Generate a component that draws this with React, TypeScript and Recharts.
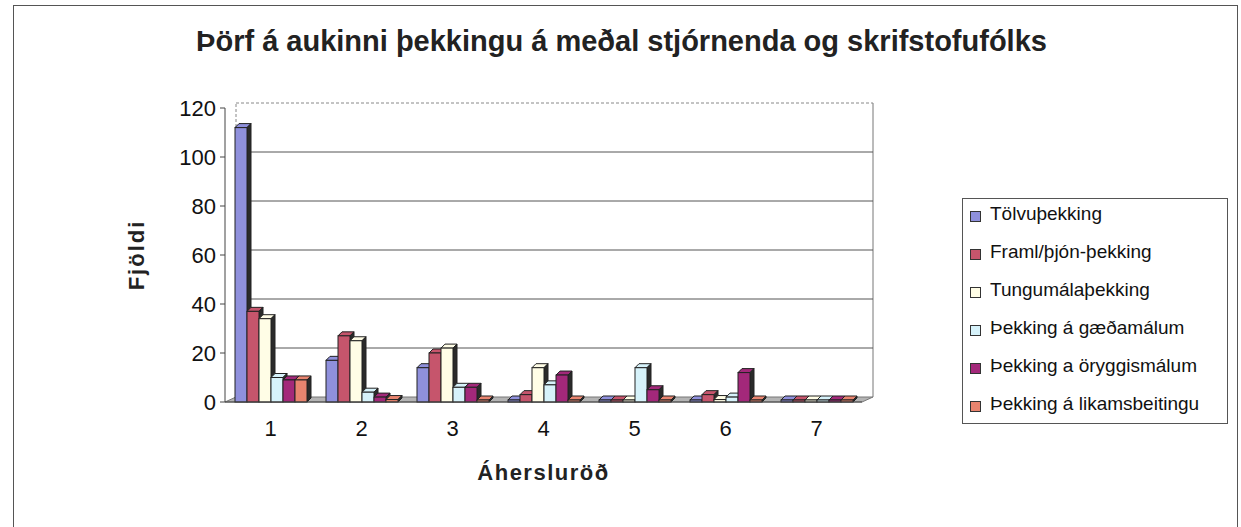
import React from 'react';
import { BarChart, Bar, XAxis, YAxis, CartesianGrid } from 'recharts';

const categories = ['1', '2', '3', '4', '5', '6', '7'];
const seriesNames = [
  'Tölvuþekking',
  'Framl/þjón-þekking',
  'Tungumálaþekking',
  'Þekking á gæðamálum',
  'Þekking a öryggismálum',
  'Þekking á likamsbeitingu',
];
const tolvu = [112, 17, 14, 0, 0, 0, 0];
const framl = [37, 27, 20, 3, 0, 3, 0];
const tungumal = [34, 25, 22, 14, 0, 1, 0];
const gaedamal = [10, 4, 6, 7, 14, 2, 0];
const oryggis = [9, 2, 6, 11, 5, 12, 0];
const likams = [9, 1, 0, 0, 0, 0, 0];
const yTicks = [0, 20, 40, 60, 80, 100, 120];

const seriesValues = [tolvu, framl, tungumal, gaedamal, oryggis, likams];
const colors = ['#8f90dc', '#c6556c', '#fffde6', '#d6f2fa', '#a3287a', '#e8846f'];
const keys = ['s0', 's1', 's2', 's3', 's4', 's5'];

const data = categories.map((c, i) => {
  const row: any = { cat: c, pos: i + 0.5 };
  keys.forEach((k, j) => (row[k] = seriesValues[j][i]));
  return row;
});

const FONT = 'Arial, "Liberation Sans", sans-serif';
const D = 4;
// depth of the back wall
const WX = 11;
const WY = 5;

const Bar3D = (props: any) => {
  const { x, y, width, height, fill } = props;
  if (width == null || height == null) return null;
  const w = width;
  const h = Math.max(height, 0);
  return (
    <g>
      <polygon
        points={`${x},${y} ${x + D},${y - D} ${x + w + D},${y - D} ${x + w},${y}`}
        fill={fill}
        stroke="#222"
        strokeWidth={1}
      />
      <polygon
        points={`${x + w},${y} ${x + w + D},${y - D} ${x + w + D},${y + h - D} ${x + w},${y + h}`}
        fill="#2a2a2a"
        stroke="#222"
        strokeWidth={1}
      />
      <rect x={x} y={y} width={w} height={h} fill={fill} stroke="#222" strokeWidth={1} />
    </g>
  );
};

const GridLine = (props: any) => {
  const { x1, y1, x2, y2, index } = props;
  const top = index === yTicks.length - 1;
  if (index === 0) {
    return (
      <g>
        <polygon
          points={`${x1},${y1} ${x1 + WX},${y1 - WY} ${x2 + WX},${y2 - WY} ${x2},${y2}`}
          fill="#b4b4b4"
          stroke="#777"
          strokeWidth={1}
        />
        <line x1={x1 + WX} y1={y1 - WY} x2={x1 + WX} y2={108 - WY} stroke="#888" strokeDasharray="3 2" />
        <line x1={x2 + WX} y1={y2 - WY} x2={x2 + WX} y2={108 - WY} stroke="#777" />
      </g>
    );
  }
  return (
    <line
      x1={x1 + WX}
      y1={y1 - WY}
      x2={x2 + WX}
      y2={y2 - WY}
      stroke={top ? '#888' : '#555'}
      strokeWidth={1}
      strokeDasharray={top ? '3 2' : undefined}
    />
  );
};

export default function App() {
  return (
    <div
      style={{
        position: 'absolute',
        left: 0,
        top: 0,
        width: 1241,
        height: 527,
        overflow: 'hidden',
        background: '#fff',
        fontFamily: FONT,
      }}
    >
      <div
        style={{
          position: 'absolute',
          left: 13,
          top: 5,
          width: 1223,
          height: 540,
          border: '1px solid #555',
        }}
      />
      <div
        style={{
          position: 'absolute',
          left: 0,
          width: 1241,
          top: 25,
          textAlign: 'center',
          fontSize: 29,
          fontWeight: 'bold',
          color: '#222',
        }}
      >
        <span style={{ position: 'relative', left: 1 }}>
          Þörf á aukinni þekkingu á meðal stjórnenda og skrifstofufólks
        </span>
      </div>
      <div style={{ position: 'absolute', left: 0, top: 0 }}>
        <BarChart
          width={1241}
          height={527}
          data={data}
          margin={{ top: 108, right: 379, left: 160, bottom: 43 }}
          barCategoryGap={10}
          barGap={0}
        >
          <CartesianGrid vertical={false} horizontal={GridLine as any} />
          <XAxis
            xAxisId="b"
            type="number"
            dataKey="pos"
            domain={[0, 7]}
            ticks={[0, 1, 2, 3, 4, 5, 6, 7]}
            tick={false}
            axisLine={false}
            tickLine={{ stroke: '#444' }}
            tickSize={6}
            height={0}
          />
          <XAxis
            dataKey="cat"
            tickLine={false}
            axisLine={{ stroke: '#444' }}
            tick={{ fontSize: 22, fill: '#111', fontFamily: FONT }}
            tickMargin={12}
            height={82}
            label={{
              value: 'Áhersluröð',
              position: 'insideBottom',
              offset: 4,
              style: {
                fontSize: 22,
                fontWeight: 'bold',
                fill: '#222',
                fontFamily: FONT,
                letterSpacing: 1.5,
              },
            }}
          />
          <YAxis
            domain={[0, 120]}
            ticks={yTicks}
            width={65}
            axisLine={{ stroke: '#444' }}
            tickLine={{ stroke: '#444' }}
            tickSize={5}
            tickMargin={4}
            tick={{ fontSize: 22, fill: '#111', fontFamily: FONT }}
            label={{
              value: 'Fjöldi',
              angle: -90,
              position: 'insideLeft',
              offset: -24,
              style: {
                fontSize: 22,
                fontWeight: 'bold',
                fill: '#222',
                fontFamily: FONT,
                textAnchor: 'middle',
                letterSpacing: 2,
              },
            }}
          />
          {keys.map((k, j) => (
            <Bar
              key={k}
              dataKey={k}
              name={seriesNames[j]}
              fill={colors[j]}
              minPointSize={2}
              shape={Bar3D}
              isAnimationActive={false}
            />
          ))}
        </BarChart>
      </div>
      <div
        style={{
          position: 'absolute',
          left: 962,
          top: 198,
          width: 266,
          height: 226,
          border: '1px solid #555',
          boxSizing: 'border-box',
          paddingTop: 2,
        }}
      >
        {seriesNames.map((n, j) => (
          <div
            key={n}
            style={{
              position: 'relative',
              height: 38,
              lineHeight: '26px',
              fontSize: 19,
              color: '#111',
              paddingLeft: 27,
              whiteSpace: 'nowrap',
            }}
          >
            <span
              style={{
                position: 'absolute',
                left: 7,
                top: 10,
                width: 9,
                height: 9,
                background: colors[j],
                border: '1px solid #333',
              }}
            />
            {n}
          </div>
        ))}
      </div>
    </div>
  );
}
